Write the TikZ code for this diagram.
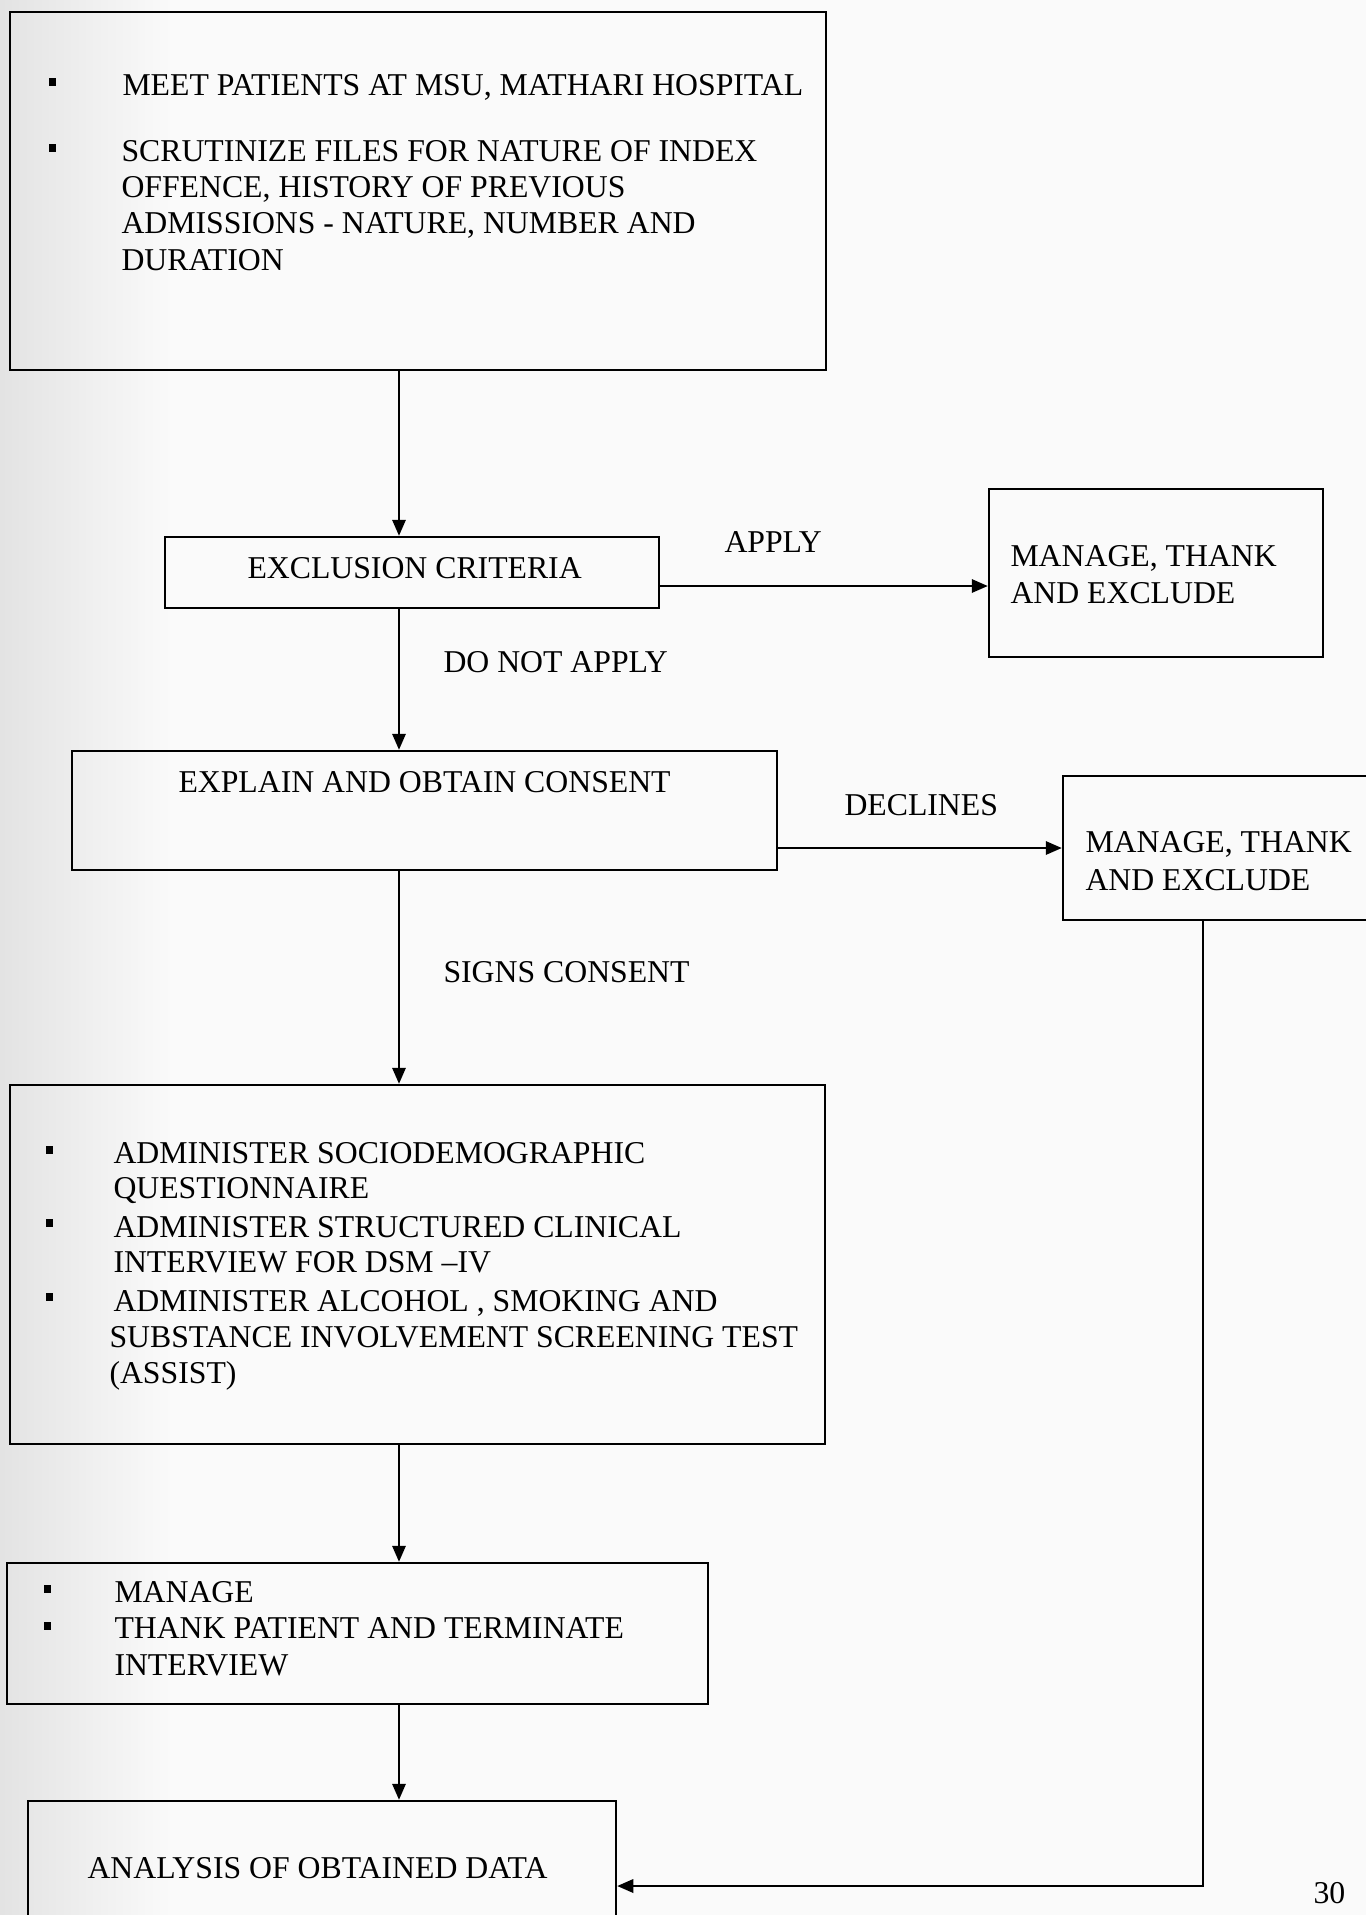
\documentclass[tikz,border=0pt]{standalone}
\usepackage{fontspec}
\setmainfont{Liberation Serif}
\usetikzlibrary{arrows.meta}
\begin{document}
\begin{tikzpicture}[x=0.4pt,y=-0.4pt,
  box/.style={draw=black, line width=1pt, rectangle, inner sep=0pt},
  txt/.style={anchor=base west, inner sep=0pt, font=\fontsize{12.7pt}{15pt}\selectfont},
  bul/.style={fill=black, draw=none, rectangle, minimum width=2.8pt, minimum height=3pt, inner sep=0pt},
  arr/.style={line width=0.7pt, -{Triangle[length=6.4pt,width=5.4pt]}},
  ln/.style={line width=0.7pt}]
\useasboundingbox (0,0) rectangle (1366,1915);
\clip (0,0) rectangle (1366,1915);
\fill[gray!4] (0,0) rectangle (1366,1915);
\shade[left color=gray!22, right color=gray!4] (0,0) rectangle (170,1915);

% boxes
\node[box, minimum width=326.4pt, minimum height=143.2pt] (b1)   at (418,191) {};
\node[box, minimum width=197.6pt, minimum height=28.4pt]  (excl) at (412,572.5) {};
\node[box, minimum width=133.6pt, minimum height=67.2pt]  (mgr1) at (1156,573) {};
\node[box, minimum width=282pt,   minimum height=47.6pt]  (expl) at (424.5,810.5) {};
\node[box, minimum width=142.8pt, minimum height=57.6pt]  (mgr2) at (1241.5,848) {};
\node[box, minimum width=326pt,   minimum height=143.6pt] (adm)  at (417.5,1264.5) {};
\node[box, minimum width=280.4pt, minimum height=56.4pt]  (mt)   at (357.5,1633.5) {};
\node[box, minimum width=235.2pt, minimum height=63.6pt]  (ana)  at (322,1880.5) {};

% box 1 text
\node[bul] (b1a) at (52,82) {};
\node[bul] (b1b) at (52,148) {};
\node[txt] (t1) at (122,95) {MEET PATIENTS AT MSU, MATHARI HOSPITAL};
\node[txt] (t2) at (121,161) {SCRUTINIZE FILES FOR NATURE OF INDEX};
\node[txt] (t3) at (121,197) {OFFENCE, HISTORY OF PREVIOUS};
\node[txt] (t4) at (121,233) {ADMISSIONS - NATURE, NUMBER AND};
\node[txt] (t5) at (121,270) {DURATION};

\node[txt] (te) at (247,578) {EXCLUSION CRITERIA};
\node[txt] (tm1a) at (1010,566) {MANAGE, THANK};
\node[txt] (tm1b) at (1010,603) {AND EXCLUDE};
\node[txt] (tx) at (178,792) {EXPLAIN AND OBTAIN CONSENT};
\node[txt] (tm2a) at (1085,852) {MANAGE, THANK};
\node[txt] (tm2b) at (1085,890) {AND EXCLUDE};

% labels
\node[txt] (lapply) at (724,552) {APPLY};
\node[txt] (lnot) at (443,672) {DO NOT APPLY};
\node[txt] (ldecl) at (844,815) {DECLINES};
\node[txt] (lsign) at (443,982) {SIGNS CONSENT};

% administer box text
\node[bul] (ba) at (49,1150) {};
\node[bul] (bb) at (49,1223) {};
\node[bul] (bc) at (49,1297) {};
\node[txt] (a1) at (113,1163) {ADMINISTER SOCIODEMOGRAPHIC};
\node[txt] (a2) at (113,1198) {QUESTIONNAIRE};
\node[txt] (a3) at (113,1237) {ADMINISTER STRUCTURED CLINICAL};
\node[txt] (a4) at (113,1272) {INTERVIEW FOR DSM –IV};
\node[txt] (a5) at (113,1311) {ADMINISTER ALCOHOL , SMOKING AND};
\node[txt] (a6) at (109,1347) {SUBSTANCE INVOLVEMENT SCREENING TEST};
\node[txt] (a7) at (109,1383) {(ASSIST)};

% manage / thank box text
\node[bul] (bm1) at (47,1589) {};
\node[bul] (bm2) at (47,1626) {};
\node[txt] (m1) at (114,1602) {MANAGE};
\node[txt] (m2) at (114,1638) {THANK PATIENT AND TERMINATE};
\node[txt] (m3) at (114,1675) {INTERVIEW};

\node[txt] (tan) at (87,1878) {ANALYSIS OF OBTAINED DATA};
\node[txt] (pg) at (1313,1903) {30};

% connectors
\coordinate (colx) at (399,0);
\coordinate (ya) at (0,586);
\coordinate (rx) at (1203,1886);
\draw[arr] (colx |- b1.south) -- (colx |- excl.north);
\draw[arr] (excl.east |- ya) -- (mgr1.west |- ya);
\draw[arr] (colx |- excl.south) -- (colx |- expl.north);
\draw[arr] (expl.east |- mgr2.west) -- (mgr2.west);
\draw[arr] (colx |- expl.south) -- (colx |- adm.north);
\draw[arr] (colx |- adm.south) -- (colx |- mt.north);
\draw[arr] (colx |- mt.south) -- (colx |- ana.north);
\draw[arr] (rx |- mgr2.south) -- (rx) -- (ana.east |- rx);
\end{tikzpicture}
\end{document}
